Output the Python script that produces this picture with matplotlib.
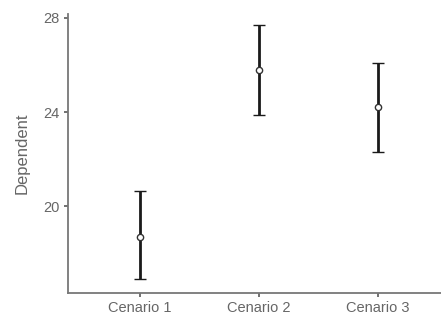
import numpy as np
import matplotlib
matplotlib.use('Agg')
import matplotlib.pyplot as plt

# data
scenarios = ['Cenario 1', 'Cenario 2', 'Cenario 3']
means = [18.7, 25.8, 24.2]
upper = [20.65, 27.7, 26.1]
lower = [16.88, 23.87, 22.3]

plt.rcParams['font.family'] = ['Liberation Sans', 'DejaVu Sans']

fig = plt.figure(figsize=(4.41, 3.2), dpi=100)
ax = fig.add_axes([68 / 441, 27 / 320, 1 - 68 / 441, (293 - 14) / 320])

x = np.arange(1, len(scenarios) + 1)
means = np.array(means)
yerr = [means - np.array(lower), np.array(upper) - means]
ax.errorbar(x, means, yerr=yerr, fmt='o', color='#1a1a1a', ecolor='#1a1a1a',
            elinewidth=2, capsize=4.5, capthick=2, markersize=4.5,
            markerfacecolor='white', markeredgecolor='#333333', markeredgewidth=1)

ax.set_xlim(0.4, 3.53)
ax.set_ylim(16.3, 28.17)
ax.set_xticks(x)
ax.set_xticklabels(scenarios)
ax.set_yticks([20, 24, 28])
ax.set_ylabel('Dependent', color='#666666', fontsize=12)
ax.yaxis.set_label_coords(-(68 - 30) / 373, 0.5)

for s in ['top', 'right']:
    ax.spines[s].set_visible(False)
for s in ['left', 'bottom']:
    ax.spines[s].set_color('#777777')
    ax.spines[s].set_linewidth(1.3)
ax.tick_params(colors='#666666', labelcolor='#666666', labelsize=10.5,
               length=3, width=1.3, pad=3)

plt.savefig('out.png', dpi=100)
